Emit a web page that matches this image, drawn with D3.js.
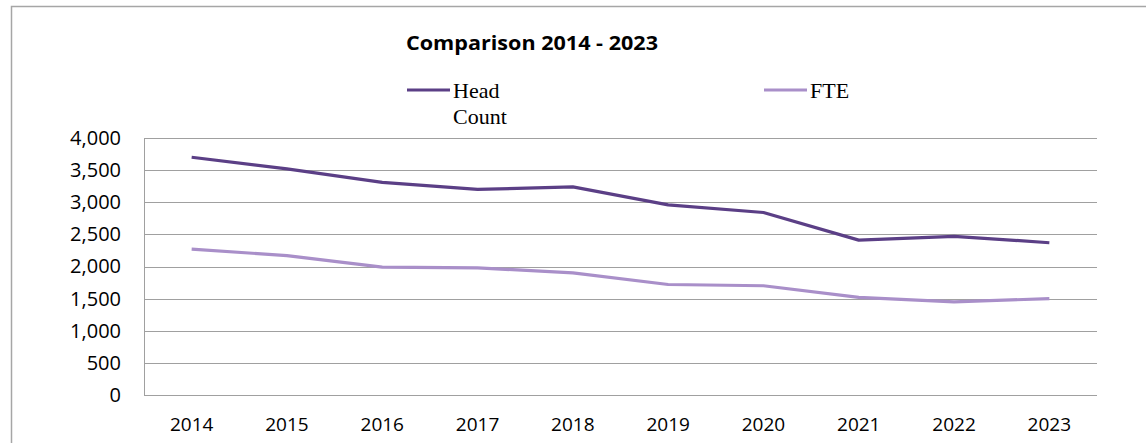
<!DOCTYPE html>
<html>
<head>
<meta charset="utf-8">
<script src="https://cdn.jsdelivr.net/npm/d3@7"></script>
<style>
  body { margin: 0; background: #fff; }
  svg { display: block; }
</style>
</head>
<body>
<svg id="chart" width="1146" height="443"></svg>
<script>
// data
var years = ["2014", "2015", "2016", "2017", "2018", "2019", "2020", "2021", "2022", "2023"];
var headCount = [3700, 3520, 3310, 3200, 3240, 2960, 2840, 2410, 2470, 2370];
var fte = [2270, 2170, 1990, 1980, 1900, 1720, 1700, 1520, 1450, 1500];
var yTicks = [0, 500, 1000, 1500, 2000, 2500, 3000, 3500, 4000];

var series = [
  { name: "Head Count", lines: ["Head", "Count"], values: headCount, color: "#5b3f86" },
  { name: "FTE", lines: ["FTE"], values: fte, color: "#a98fc9" }
];

var svg = d3.select("#chart");
var margin = { left: 144, right: 1097, top: 138, bottom: 395 };

// outer frame
svg.append("path")
  .attr("d", "M11.5,443 V6.5 H1146")
  .attr("fill", "none")
  .attr("stroke", "#a6a6a6")
  .attr("stroke-width", 1.5);

var x = d3.scaleBand().domain(years).range([margin.left, margin.right]);
var y = d3.scaleLinear().domain([0, 4000]).range([margin.bottom, margin.top]);

// gridlines
svg.append("g")
  .selectAll("line")
  .data(yTicks)
  .enter().append("line")
  .attr("x1", margin.left)
  .attr("x2", margin.right)
  .attr("y1", function(d) { return Math.round(y(d)) + 0.5; })
  .attr("y2", function(d) { return Math.round(y(d)) + 0.5; })
  .attr("stroke", "#a0a0a0")
  .attr("stroke-width", 1);

// left axis line of plot
svg.append("line")
  .attr("x1", margin.left + 0.5).attr("x2", margin.left + 0.5)
  .attr("y1", margin.top).attr("y2", margin.bottom + 0.5)
  .attr("stroke", "#a0a0a0");

// y labels
var yAxis = d3.axisLeft(y).tickValues(yTicks).tickSize(0).tickPadding(0).tickFormat(d3.format(","));
svg.append("g")
  .attr("transform", "translate(121,0)")
  .call(yAxis)
  .call(function(g) {
    g.select(".domain").remove();
    g.selectAll("text")
      .attr("font-family", "'Open Sans', sans-serif")
      .attr("font-size", 20)
      .attr("fill", "#000");
  });

// x labels
var xAxis = d3.axisBottom(x).tickSize(0).tickPadding(0);
svg.append("g")
  .attr("transform", "translate(0,417)")
  .call(xAxis)
  .call(function(g) {
    g.select(".domain").remove();
    g.selectAll("text")
      .attr("font-family", "'Open Sans', sans-serif")
      .attr("font-size", 19)
      .attr("fill", "#000");
  });

// lines
var line = d3.line()
  .x(function(d, i) { return x(years[i]) + x.bandwidth() / 2; })
  .y(function(d) { return y(d); });

svg.append("g")
  .selectAll("path")
  .data(series)
  .enter().append("path")
  .attr("d", function(d) { return line(d.values); })
  .attr("fill", "none")
  .attr("stroke", function(d) { return d.color; })
  .attr("stroke-width", 3.2)
  .attr("stroke-linejoin", "round");

// title
svg.append("text")
  .attr("x", 532)
  .attr("y", 50)
  .attr("text-anchor", "middle")
  .attr("font-family", "'Open Sans', sans-serif")
  .attr("font-weight", "bold")
  .attr("font-size", 20)
  .attr("textLength", 252)
  .attr("lengthAdjust", "spacingAndGlyphs")
  .attr("fill", "#000")
  .text("Comparison 2014 - 2023");

// legend
var legendX = [407, 764];
var legend = svg.append("g")
  .selectAll("g")
  .data(series)
  .enter().append("g")
  .attr("transform", function(d, i) { return "translate(" + legendX[i] + ",0)"; });

legend.append("line")
  .attr("x1", 0).attr("x2", 43)
  .attr("y1", 90).attr("y2", 90)
  .attr("stroke", function(d) { return d.color; })
  .attr("stroke-width", 3.2);

legend.append("text")
  .attr("font-family", "'Liberation Serif', 'Times New Roman', serif")
  .attr("font-size", 22)
  .attr("fill", "#000")
  .selectAll("tspan")
  .data(function(d) { return d.lines; })
  .enter().append("tspan")
  .attr("x", 46)
  .attr("y", function(d, i) { return 98 + i * 26; })
  .text(function(d) { return d; });
</script>
</body>
</html>
